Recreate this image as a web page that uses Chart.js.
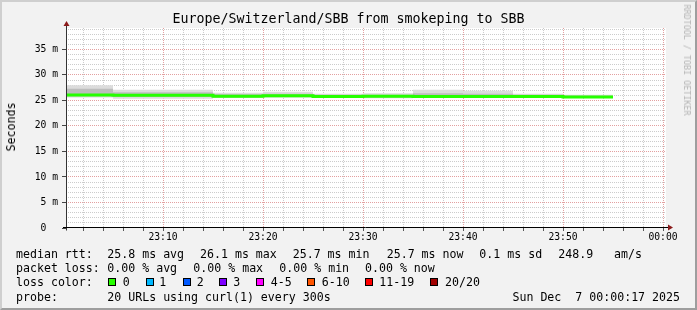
<!DOCTYPE html>
<html>
<head>
<meta charset="utf-8">
<script src="https://cdn.jsdelivr.net/npm/chart.js@4/dist/chart.umd.min.js"></script>
<style>
html,body{margin:0;padding:0;background:#f2f2f2;}
#frame{position:absolute;left:0;top:0;width:697px;height:310px;box-sizing:border-box;
  border-left:2px solid #cfcfcf;border-top:2px solid #cfcfcf;border-right:2px solid #9e9e9e;border-bottom:2px solid #9e9e9e;background:#f2f2f2;}
#c{position:absolute;left:0;top:0;}
.t{position:absolute;font-family:"DejaVu Sans Mono",monospace;font-size:11.6px;line-height:14px;height:14px;white-space:pre;color:#000;}
#title{position:absolute;left:0;top:11px;width:697px;text-align:center;font-family:"DejaVu Sans Mono",monospace;font-size:13.3px;line-height:16px;color:#000;white-space:pre;}
#ylab{position:absolute;left:11px;top:127px;transform:translate(-50%,-50%) rotate(-90deg);font-family:"DejaVu Sans Mono",monospace;font-size:11.6px;line-height:14px;color:#000;white-space:pre;}
#wm{position:absolute;left:687px;top:60px;transform:translate(-50%,-50%) rotate(90deg);font-family:"DejaVu Sans Mono",monospace;font-size:8.4px;line-height:10px;color:#b4b4b4;white-space:pre;}
.box{position:absolute;width:6px;height:6px;border:1px solid #000;}
</style>
</head>
<body>
<div id="frame"></div>
<canvas id="c" width="697" height="310"></canvas>
<div id="title"></div>
<div id="ylab"></div>
<div id="wm"></div>
<div id="legend"></div>
<script>
// ---------- data ----------
const titleText = 'Europe/Switzerland/SBB from smokeping to SBB';
const yAxisTitle = 'Seconds';
const watermark = 'RRDTOOL / TOBI OETIKER';
const viewStart = '23:00:18';
const viewEnd = '00:00:18';
// step boundaries (5-minute steps, 11 steps)
const times = ['23:00','23:05','23:10','23:15','23:20','23:25','23:30','23:35','23:40','23:45','23:50','23:55'];
const median     = [26.05, 26.0, 26.0, 25.8, 25.9, 25.75, 25.8, 25.75, 25.75, 25.75, 25.7];
const smokeMax   = [28.0, 27.1, 27.1, 26.5, 26.7, 26.3, 26.4, 27.1, 26.9, 26.3, 26.1];
const smokeUpper = [27.3, 26.6, 26.6, 26.2, 26.3, 26.1, 26.1, 26.4, 26.3, 26.1, 25.9];
const smokeLower = [25.8, 25.7, 25.7, 25.6, 25.7, 25.6, 25.6, 25.6, 25.6, 25.6, 25.6];
const smokeMin   = [25.6, 25.35, 25.35, 25.5, 25.55, 25.5, 25.45, 25.5, 25.5, 25.5, 25.55];
const xTickLabels = ['23:10','23:20','23:30','23:40','23:50','00:00'];
const yTickValues = [0, 5, 10, 15, 20, 25, 30, 35];
const yTickLabels = ['0', '5 m', '10 m', '15 m', '20 m', '25 m', '30 m', '35 m'];
const yMax = 39.2;
const rttLabel = 'median rtt:';
const rttStats = ['25.8 ms avg', '26.1 ms max', '25.7 ms min', '25.7 ms now', '0.1 ms sd', '248.9', 'am/s'];
const lossLabel = 'packet loss:';
const lossStats = ['0.00 % avg', '0.00 % max', '0.00 % min', '0.00 % now'];
const colorLabel = 'loss color:';
const lossBuckets = ['0', '1', '2', '3', '4-5', '6-10', '11-19', '20/20'];
const lossColors = ['#26ff00', '#00b8ff', '#0059ff', '#7e00ff', '#ff00ff', '#ff5500', '#ff0000', '#a10000'];
const probeLabel = 'probe:';
const probeText = '20 URLs using curl(1) every 300s';
const dateText = 'Sun Dec  7 00:00:17 2025';

// ---------- layout ----------
const rowY = [254, 268, 282, 296.5];
const rttX = [107.3, 200, 292.7, 386.7, 479.3, 558.3, 614];
const lossX = [107.3, 193.3, 279.3, 365];
const boxX = [108, 145.5, 182.5, 219, 256, 307, 365, 430];
const bucketX = [122.7, 159.3, 196.7, 233.3, 270.7, 321.7, 379.3, 445];
const xGridStep = 2;   // minutes between minor grid lines
const yGridStep = 1;   // ms between minor grid lines

function toMin(s) {
  const p = s.split(':').map(Number);
  const h = p[0] < 12 ? p[0] + 24 : p[0];
  return (h - 23) * 60 + p[1] + (p[2] || 0) / 60;
}

document.getElementById('title').textContent = titleText;
document.getElementById('ylab').textContent = yAxisTitle;
document.getElementById('wm').textContent = watermark;

const leg = document.getElementById('legend');
function txt(x, cy, s) {
  const d = document.createElement('div');
  d.className = 't';
  d.style.left = x + 'px';
  d.style.top = (cy - 7) + 'px';
  d.textContent = s;
  leg.appendChild(d);
  return d;
}
txt(16, rowY[0], rttLabel);
rttStats.forEach((s, i) => txt(rttX[i], rowY[0], s));
txt(16, rowY[1], lossLabel);
lossStats.forEach((s, i) => txt(lossX[i], rowY[1], s));
txt(16, rowY[2], colorLabel);
lossBuckets.forEach((s, i) => {
  const b = document.createElement('div');
  b.className = 'box';
  b.style.left = boxX[i] + 'px';
  b.style.top = (rowY[2] - 4) + 'px';
  b.style.background = lossColors[i];
  leg.appendChild(b);
  txt(bucketX[i], rowY[2], s);
});
txt(16, rowY[3], probeLabel);
txt(107.3, rowY[3], probeText);
const dt = txt(0, rowY[3], dateText);
dt.style.left = 'auto';
dt.style.right = '17px';

// ---------- chart ----------
const pts = arr => times.map((t, i) => ({x: toMin(t), y: arr[Math.min(i, arr.length - 1)]}));
const xMajor = v => xTickLabels.some(l => Math.abs(toMin(l) - v) < 1e-6);
const yMajor = v => yTickValues.indexOf(v) >= 0;

const framePlugin = {
  id: 'framePlugin',
  beforeDraw(chart) {
    const {ctx, chartArea: a} = chart;
    ctx.save();
    ctx.fillStyle = '#ffffff';
    ctx.fillRect(a.left, a.top, a.right - a.left, a.bottom - a.top);
    ctx.restore();
  },
  afterDraw(chart) {
    const {ctx, chartArea: a} = chart;
    const y0 = Math.round(chart.scales.y.getPixelForValue(0)) - 0.5;
    const x0 = a.left + 0.5;
    ctx.save();
    ctx.lineWidth = 1;
    ctx.strokeStyle = '#333';
    ctx.beginPath();
    ctx.moveTo(x0, y0 + 3);
    ctx.lineTo(x0, a.top - 5);
    ctx.stroke();
    ctx.strokeStyle = '#000';
    ctx.beginPath();
    ctx.moveTo(a.left - 3, y0);
    ctx.lineTo(a.right + 2, y0);
    ctx.stroke();
    ctx.fillStyle = '#8b1a1a';
    ctx.beginPath();
    ctx.moveTo(x0 - 3, a.top - 2);
    ctx.lineTo(x0, a.top - 7);
    ctx.lineTo(x0 + 3, a.top - 2);
    ctx.closePath();
    ctx.fill();
    ctx.beginPath();
    ctx.moveTo(a.right + 2, y0 - 3);
    ctx.lineTo(a.right + 7, y0);
    ctx.lineTo(a.right + 2, y0 + 3);
    ctx.closePath();
    ctx.fill();
    ctx.restore();
  }
};

const band = (data, fill, color, order) => ({
  data: pts(data), stepped: true, borderWidth: 0, borderColor: 'transparent',
  pointRadius: 0, fill: fill, backgroundColor: color, order: order
});

new Chart(document.getElementById('c'), {
  type: 'line',
  data: {
    datasets: [
      band(smokeMax, '+1', '#dcdcdc', 4),
      band(smokeMin, false, 'transparent', 4),
      band(smokeUpper, '+1', '#bdbdbd', 3),
      band(smokeLower, false, 'transparent', 3),
      {data: pts(median), stepped: true, borderColor: '#26ff00', borderWidth: 3,
       pointRadius: 0, fill: false, order: 0}
    ]
  },
  options: {
    responsive: false,
    animation: false,
    events: [],
    layout: {padding: {left: 0, top: 28, right: 31, bottom: 0}},
    plugins: {legend: {display: false}, tooltip: {enabled: false}, title: {display: false}},
    scales: {
      x: {
        type: 'linear',
        min: toMin(viewStart),
        max: toMin(viewEnd),
        afterBuildTicks(s) {
          const t = [];
          for (let v = Math.ceil(s.min / xGridStep) * xGridStep; v <= s.max + 1e-9; v += xGridStep) t.push({value: v});
          s.ticks = t;
        },
        afterFit(s) { s.height = 82; s.paddingLeft = 0; s.paddingRight = 0; },
        ticks: {
          autoSkip: false, maxRotation: 0, minRotation: 0,
          padding: 1, color: '#000',
          font: {family: 'DejaVu Sans Mono', size: 9.7},
          callback: v => {
            const i = xTickLabels.findIndex(l => Math.abs(toMin(l) - v) < 1e-6);
            return i >= 0 ? xTickLabels[i] : '';
          }
        },
        grid: {
          color: c => xMajor(c.tick.value) ? '#e3a0a0' : '#cccccc',
          tickColor: '#555', tickLength: 3, lineWidth: 1
        },
        border: {display: false, dash: [1, 1]}
      },
      y: {
        type: 'linear',
        min: 0,
        max: yMax,
        afterBuildTicks(s) {
          const t = [];
          for (let v = 0; v <= s.max + 1e-9; v += yGridStep) t.push({value: v});
          s.ticks = t;
        },
        afterFit(s) { s.width = 66; s.paddingTop = 0; s.paddingBottom = 0; },
        ticks: {
          autoSkip: false, padding: 4, color: '#000',
          font: {family: 'DejaVu Sans Mono', size: 9.7},
          callback: v => {
            const i = yTickValues.indexOf(v);
            if (i < 0) return '';
            const l = yTickLabels[i];
            return l.indexOf(' ') >= 0 ? l : l + '  ';
          }
        },
        grid: {
          color: c => c.tick.value === 0 ? 'rgba(0,0,0,0)' : (yMajor(c.tick.value) ? '#e3a0a0' : '#cccccc'),
          tickColor: c => yMajor(c.tick.value) ? '#444' : 'rgba(0,0,0,0)',
          tickLength: 4, lineWidth: 1
        },
        border: {display: false, dash: [1, 1]}
      }
    }
  },
  plugins: [framePlugin]
});
</script>
</body>
</html>
